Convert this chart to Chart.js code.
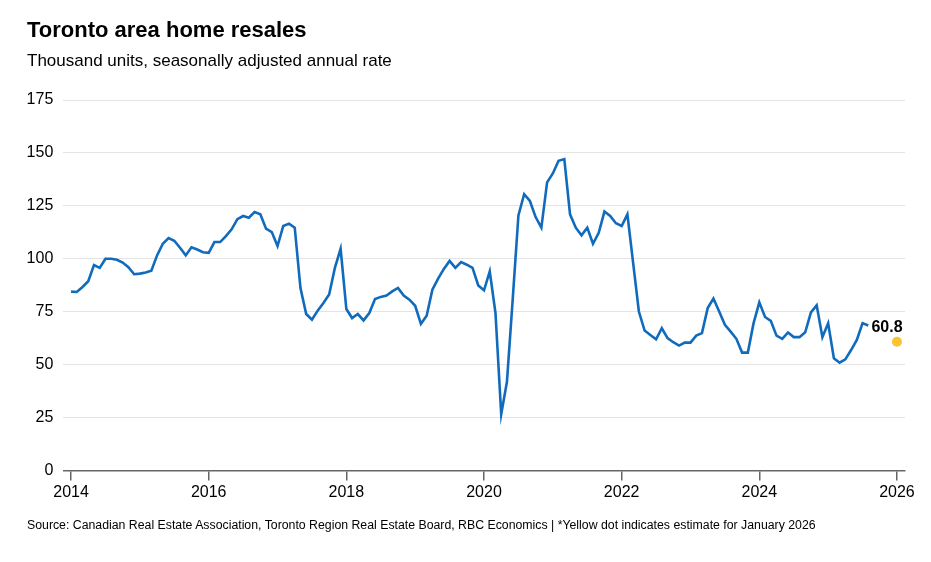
<!DOCTYPE html>
<html>
<head>
<meta charset="utf-8">
<script src="https://cdn.jsdelivr.net/npm/chart.js@4.4.1/dist/chart.umd.min.js"></script>
<style>
  html, body { margin: 0; padding: 0; background: #fff; }
  body { width: 931px; height: 562px; position: relative; overflow: hidden; font-family: "Liberation Sans", Arial, sans-serif; color: #000; }
  .txt { position: absolute; left: 27px; white-space: nowrap; }
  #title { top: 19.1px; font-size: 22px; line-height: 22px; font-weight: bold; }
  #subtitle { top: 51.6px; font-size: 17px; line-height: 17px; }
  #source { top: 518.9px; font-size: 12.3px; line-height: 12.3px; }
  #wrap { position: absolute; left: 0; top: 0; width: 931px; height: 562px; }
</style>
</head>
<body>
<div id="wrap"><canvas id="c" width="931" height="562"></canvas></div>
<div class="txt" id="title">Toronto area home resales</div>
<div class="txt" id="subtitle">Thousand units, seasonally adjusted annual rate</div>
<div class="txt" id="source">Source: Canadian Real Estate Association, Toronto Region Real Estate Board, RBC Economics | *Yellow dot indicates estimate for January 2026</div>
<script>
// Monthly values, Jan 2014 .. Aug 2025 (thousand units, SAAR)
const startYear = 2014;
const resales = [
  84.5, 84.3, 86.7, 89.4, 97.0, 95.7, 100.0, 100.0, 99.5, 98.2, 96.0, 92.7,
  93.0, 93.5, 94.4, 101.6, 107.1, 109.8, 108.5, 105.2, 101.6, 105.4, 104.4, 103.1,
  102.8, 107.9, 107.9, 110.7, 113.9, 118.7, 120.2, 119.4, 122.1, 121.0, 114.2, 112.6,
  106.0, 115.5, 116.6, 114.7, 86.2, 73.9, 71.2, 75.5, 79.1, 83.1, 95.7, 104.7,
  76.3, 72.0, 73.9, 70.9, 74.4, 81.0, 82.0, 82.6, 84.6, 86.2, 82.6, 80.7,
  77.8, 69.3, 73.1, 85.4, 90.6, 95.2, 99.0, 95.7, 98.4, 97.2, 95.7, 87.4,
  85.1, 94.1, 74.4, 26.6, 41.9, 80.7, 120.5, 130.5, 127.3, 119.7, 114.7, 136.1,
  140.3, 146.3, 147.1, 121.0, 114.7, 111.1, 114.7, 107.1, 112.3, 122.3, 120.2, 116.8,
  115.5, 121.0, 98.1, 75.1, 66.1, 64.0, 62.0, 67.2, 62.5, 60.6, 59.0, 60.4,
  60.4, 63.7, 64.9, 76.7, 81.2, 75.1, 68.8, 65.6, 62.2, 55.7, 55.7, 69.6,
  79.4, 72.5, 70.7, 63.7, 62.2, 65.2, 63.0, 63.0, 65.3, 74.7, 78.0, 63.0,
  69.6, 53.0, 50.9, 52.5, 56.9, 61.7, 69.6, 68.5
];
// Estimate for January 2026
const estimateMonthIndex = 144;
const estimateValue = 60.8;
const estimateLabel = "60.8";
// Axis ticks
const xTickYears = [2014, 2016, 2018, 2020, 2022, 2024, 2026];
const yTicks = [0, 25, 50, 75, 100, 125, 150, 175];

const linePoints = resales.map((v, i) => ({ x: i, y: v }));
const estPoints = [{ x: estimateMonthIndex, y: estimateValue }];
const xTickValues = xTickYears.map(y => (y - startYear) * 12);

const estLabelPlugin = {
  id: 'estLabel',
  afterDatasetsDraw(chart) {
    const meta = chart.getDatasetMeta(1);
    const pt = meta.data[0];
    if (!pt) return;
    const ctx = chart.ctx;
    ctx.save();
    ctx.font = 'bold 16px "Liberation Sans", Arial, sans-serif';
    ctx.fillStyle = '#000';
    ctx.textAlign = 'center';
    ctx.textBaseline = 'alphabetic';
    ctx.fillText(estimateLabel, pt.x - 10, pt.y - 9.5);
    ctx.restore();
  }
};

new Chart(document.getElementById('c'), {
  type: 'line',
  data: {
    datasets: [
      {
        data: linePoints,
        borderColor: '#116bbd',
        borderWidth: 2.6,
        pointRadius: 0,
        tension: 0,
        fill: false
      },
      {
        data: estPoints,
        showLine: false,
        pointRadius: 5,
        pointBackgroundColor: '#fcc232',
        pointBorderColor: '#fcc232',
        pointBorderWidth: 0
      }
    ]
  },
  options: {
    responsive: false,
    animation: false,
    events: [],
    layout: { padding: { left: 0, right: 26, top: 100, bottom: 61.5 } },
    plugins: { legend: { display: false }, tooltip: { enabled: false }, title: { display: false } },
    scales: {
      x: {
        type: 'linear',
        min: -1.35,
        max: 145.4,
        afterFit(scale) { scale.height = 30; },
        afterBuildTicks(scale) { scale.ticks = xTickValues.map(v => ({ value: v })); },
        grid: {
          display: true,
          drawOnChartArea: false,
          drawTicks: true,
          tickLength: 10,
          color: '#666',
          lineWidth: 1.5
        },
        border: { display: true, color: '#666', width: 1.5 },
        ticks: {
          autoSkip: false,
          maxRotation: 0,
          padding: 2,
          color: '#000',
          font: { family: '"Liberation Sans", Arial, sans-serif', size: 16 },
          callback: (v) => String(startYear + v / 12)
        }
      },
      y: {
        min: 0,
        max: 175,
        afterFit(scale) { scale.width = 63.3; },
        afterBuildTicks(scale) { scale.ticks = yTicks.map(v => ({ value: v })); },
        grid: { color: '#e4e4e4', lineWidth: 1, drawTicks: false },
        border: { display: false },
        ticks: {
          padding: 10,
          color: '#000',
          font: { family: '"Liberation Sans", Arial, sans-serif', size: 16 }
        }
      }
    }
  },
  plugins: [estLabelPlugin]
});
</script>
</body>
</html>
